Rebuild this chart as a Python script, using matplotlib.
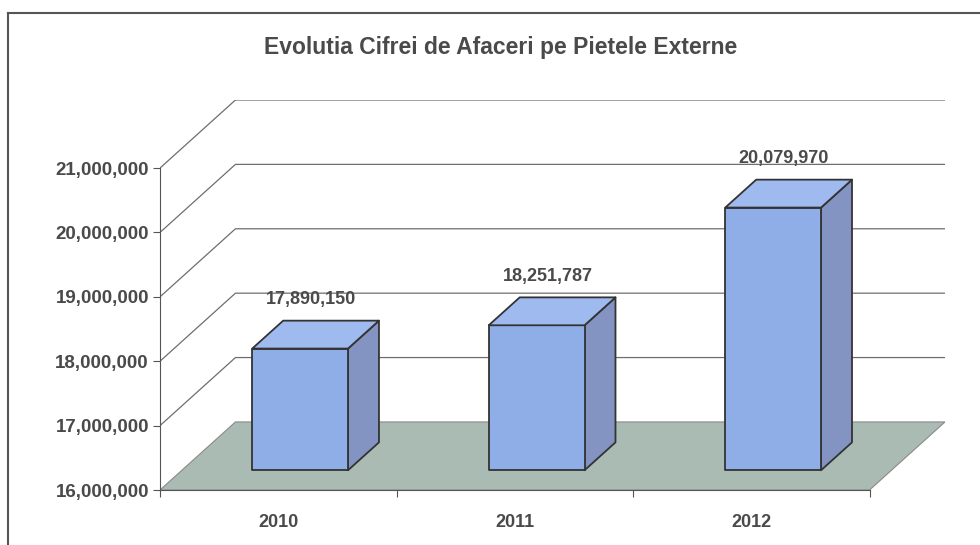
#Pseudo 3D column chart of external market turnover (Excel style)
from matplotlib import pyplot as plt
from matplotlib.patches import Polygon
from matplotlib.lines import Line2D

years = ['2010', '2011', '2012']
turnover = [17890150, 18251787, 20079970]
tick_values = [16000000, 17000000, 18000000, 19000000, 20000000, 21000000]
title = 'Evolutia Cifrei de Afaceri pe Pietele Externe'

FONT = ['Liberation Sans', 'DejaVu Sans']
TXT = '#4a4a4a'

# oblique depth offset (x in categories, y in millions)
DX = 0.319
DY = 1.057
D0, D1 = 0.29, 0.70
BAR_W = 0.405


def proj(x, y, d):
    return (x + d * DX, y + d * DY)


fig = plt.figure(figsize=(9.8, 5.45), dpi=100)
ax = fig.add_axes([160 / 980, 1 - 490 / 545, 785 / 980, 390 / 545])
ymin = tick_values[0] / 1e6
ymax = tick_values[-1] / 1e6
ncat = len(years)
ax.set_xlim(0, ncat + DX)
ax.set_ylim(ymin, ymax + DY)
ax.patch.set_alpha(0)

# floor
floor = Polygon([proj(0, ymin, 0), proj(ncat, ymin, 0), proj(ncat, ymin, 1), proj(0, ymin, 1)],
                closed=True, facecolor='#a9bbb3', edgecolor='#8a8a8a', lw=0.8, zorder=1)
ax.add_patch(floor)

# walls gridlines
for v in tick_values[1:]:
    y = v / 1e6
    x0, y0 = proj(0, y, 0)
    x1, y1 = proj(0, y, 1)
    x2, y2 = proj(ncat, y, 1)
    ax.plot([x0, x1, x2], [y0, y1, y2], color='#6e6e6e', lw=0.9, zorder=1)

# bars
for i, v in enumerate(turnover):
    top = v / 1e6
    xl = i + 0.5 - BAR_W / 2
    xr = i + 0.5 + BAR_W / 2
    front = [proj(xl, ymin, D0), proj(xr, ymin, D0), proj(xr, top, D0), proj(xl, top, D0)]
    side = [proj(xr, ymin, D0), proj(xr, ymin, D1), proj(xr, top, D1), proj(xr, top, D0)]
    lid = [proj(xl, top, D0), proj(xr, top, D0), proj(xr, top, D1), proj(xl, top, D1)]
    for pts, col in [(side, '#8494c2'), (front, '#8fade7'), (lid, '#9fbaef')]:
        ax.add_patch(Polygon(pts, closed=True, facecolor=col, edgecolor='#333333',
                             lw=1.3, joinstyle='round', zorder=3))
    cx, cy = proj(i + 0.5, top, D1)
    cx = i + 0.5 + DX * (D0 + D1) / 2 - 0.02
    ax.annotate(f'{v:,}', xy=(cx, cy), xytext=(0, 9), textcoords='offset points',
                ha='center', va='bottom', fontsize=13, fontweight='bold',
                color=TXT, family=FONT, zorder=4)

# axes
for s in ['top', 'right']:
    ax.spines[s].set_visible(False)
ax.spines['left'].set_bounds(ymin, ymax)
ax.spines['bottom'].set_bounds(0, ncat)
ax.spines['left'].set_color('#555555')
ax.spines['bottom'].set_color('#555555')

ax.set_yticks([v / 1e6 for v in tick_values])
ax.set_yticklabels([f'{v:,}' for v in tick_values], fontsize=13.5, fontweight='bold',
                   color=TXT, family=FONT)
ax.tick_params(axis='y', length=5, color='#555555', pad=3)

ax.set_xticks(range(ncat + 1))
ax.set_xticklabels([])
ax.set_xticks([i + 0.5 for i in range(ncat)], minor=True)
ax.set_xticklabels(years, minor=True, fontsize=13, fontweight='bold', color=TXT, family=FONT)
ax.tick_params(axis='x', which='major', length=5, color='#555555')
ax.tick_params(axis='x', which='minor', length=0, pad=17)

fig.text(501 / 980, 1 - 47 / 545, title, ha='center', va='center', fontsize=16.5,
         fontweight='bold', color=TXT, family=FONT)

# chart border
fig.add_artist(Line2D([8 / 980, 1], [1 - 13 / 545, 1 - 13 / 545], color='#555555', lw=1.5))
fig.add_artist(Line2D([8 / 980, 8 / 980], [0, 1 - 13 / 545], color='#555555', lw=1.5))

plt.savefig('out.png', dpi=100)
